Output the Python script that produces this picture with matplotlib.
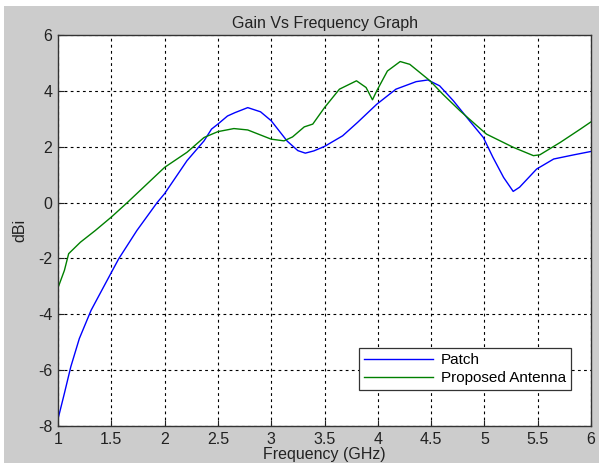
import numpy as np
import matplotlib.pyplot as plt
from matplotlib.patches import Rectangle

plt.rcParams['font.family'] = ['Liberation Sans', 'DejaVu Sans']
plt.rcParams['axes.unicode_minus'] = False

# Patch antenna gain (blue)
patch_freq = [1.0, 1.06, 1.12, 1.2, 1.31, 1.46, 1.57, 1.74, 1.93, 2.0, 2.21, 2.37,
              2.44, 2.5, 2.59, 2.66, 2.78, 2.9, 3.0, 3.15, 3.25, 3.32, 3.4, 3.5,
              3.67, 3.81, 3.99, 4.17, 4.36, 4.47, 4.58, 4.71, 4.86, 4.99, 5.08,
              5.18, 5.27, 5.33, 5.49, 5.65, 5.84, 6.0]
patch_gain = [-7.75, -6.83, -5.88, -4.87, -3.86, -2.79, -2.01, -1.0, 0.0, 0.32, 1.5, 2.21,
              2.63, 2.81, 3.1, 3.22, 3.40, 3.25, 2.93, 2.2, 1.86, 1.77, 1.85, 2.01,
              2.39, 2.87, 3.52, 4.06, 4.33, 4.39, 4.18, 3.64, 2.93, 2.33, 1.62,
              0.90, 0.40, 0.55, 1.20, 1.56, 1.71, 1.83]

# Proposed antenna gain (green)
prop_freq = [1.0, 1.06, 1.1, 1.21, 1.35, 1.5, 1.65, 2.0, 2.21, 2.37, 2.5, 2.65,
             2.78, 3.0, 3.12, 3.2, 3.31, 3.39, 3.5, 3.64, 3.8, 3.89, 3.95, 3.99,
             4.09, 4.21, 4.3, 4.49, 4.61, 4.77, 4.93, 5.02, 5.27, 5.46, 5.52,
             5.71, 5.9, 6.0]
prop_gain = [-3.05, -2.43, -1.83, -1.42, -1.0, -0.52, 0.0, 1.26, 1.80, 2.33, 2.54, 2.65,
             2.60, 2.27, 2.21, 2.35, 2.71, 2.81, 3.40, 4.06, 4.36, 4.12, 3.68, 4.0,
             4.71, 5.05, 4.95, 4.36, 3.88, 3.29, 2.75, 2.45, 1.98, 1.68, 1.71,
             2.15, 2.63, 2.89]

xticks = [1, 1.5, 2, 2.5, 3, 3.5, 4, 4.5, 5, 5.5, 6]
yticks = [-8, -6, -4, -2, 0, 2, 4, 6]

fig = plt.figure(figsize=(5.99, 4.65), dpi=100, facecolor='white')
# grey matlab style figure background
fig.patches.append(Rectangle((4 / 599, 2 / 465), 595 / 599, 457 / 465,
                             transform=fig.transFigure, facecolor='#cccccc',
                             edgecolor='none', zorder=-5))

ax = fig.add_axes([58 / 599, 1 - 426 / 465, 533 / 599, 391 / 465])
ax.set_facecolor('white')

ax.plot(patch_freq, patch_gain, color='#0000ff', lw=1.0, label='Patch')
ax.plot(prop_freq, prop_gain, color='#008000', lw=1.0, label='Proposed Antenna')

ax.set_xlim(1, 6)
ax.set_ylim(-8, 6)
ax.set_xticks(xticks)
ax.set_xticklabels(['1', '1.5', '2', '2.5', '3', '3.5', '4', '4.5', '5', '5.5', '6'])
ax.set_yticks(yticks)
ax.grid(True, color='black', linestyle=(0, (2.5, 3)), lw=0.8)
ax.tick_params(direction='in', length=4, labelsize=11.5, colors='#222222', pad=4)
for s in ax.spines.values():
    s.set_color('#333333')
    s.set_linewidth(1.0)

ax.set_xlabel('Frequency (GHz)', fontsize=11.5, labelpad=0, color='#222222')
ax.set_ylabel('dBi', fontsize=11.5, labelpad=8, color='#222222')
ax.set_title('Gain Vs Frequency Graph', fontsize=11.5, pad=5, color='#222222')

leg = ax.legend(loc='lower right', bbox_to_anchor=(0.977, 0.072), fontsize=11,
                fancybox=False, framealpha=1, edgecolor='#333333',
                handlelength=4.5, borderpad=0.35, labelspacing=0.25,
                handletextpad=0.5)
leg.get_frame().set_linewidth(0.9)

plt.savefig('out.png', dpi=100, facecolor=fig.get_facecolor())
